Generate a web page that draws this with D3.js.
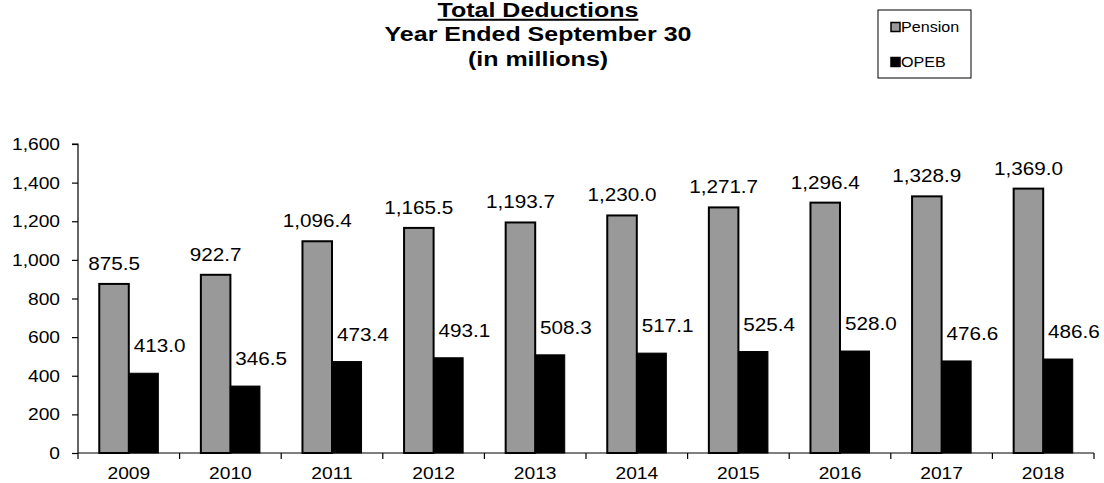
<!DOCTYPE html>
<html>
<head>
<meta charset="utf-8">
<script src="https://cdn.jsdelivr.net/npm/d3@7"></script>
<style>
  html, body { margin: 0; padding: 0; background: #fff; }
  svg { display: block; }
  text { font-family: "Liberation Sans", Arial, sans-serif; fill: #000; }
</style>
</head>
<body>
<svg id="chart" width="1104" height="483"></svg>
<script>
const years = ["2009","2010","2011","2012","2013","2014","2015","2016","2017","2018"];
const pension = [875.5, 922.7, 1096.4, 1165.5, 1193.7, 1230.0, 1271.7, 1296.4, 1328.9, 1369.0];
const opeb = [413.0, 346.5, 473.4, 493.1, 508.3, 517.1, 525.4, 528.0, 476.6, 486.6];
const seriesNames = ["Pension", "OPEB"];
const yTicks = [0, 200, 400, 600, 800, 1000, 1200, 1400, 1600];
const titleLines = ["Total Deductions", "Year Ended September 30", "(in millions)"];

const svg = d3.select("#chart");
const mLeft = 78, mRight = 1094, mTop = 144, mBottom = 453;
const colors = { Pension: "#999999", OPEB: "#000000" };

const x = d3.scaleBand().domain(years).range([mLeft, mRight]).padding(0);
const inner = d3.scaleBand().domain(seriesNames).range([0, x.bandwidth()]).paddingInner(0).paddingOuter(0.72);
const y = d3.scaleLinear().domain([0, 1600]).range([mBottom, mTop]);
const fmt = d3.format(",.1f");

// Bars
const groups = svg.append("g").selectAll("g").data(years).join("g")
  .attr("transform", d => `translate(${x(d)},0)`);

groups.append("rect")
  .attr("x", inner("Pension"))
  .attr("width", inner.bandwidth())
  .attr("y", (d, i) => y(pension[i]))
  .attr("height", (d, i) => y(0) - y(pension[i]))
  .attr("fill", colors.Pension)
  .attr("stroke", "#000").attr("stroke-width", 2);

groups.append("rect")
  .attr("x", inner("OPEB"))
  .attr("width", inner.bandwidth())
  .attr("y", (d, i) => y(opeb[i]))
  .attr("height", (d, i) => y(0) - y(opeb[i]))
  .attr("fill", colors.OPEB)
  .attr("stroke", "#000").attr("stroke-width", 1);

// Data labels
const lsx = 1.15;
groups.append("text")
  .attr("text-anchor", "middle")
  .attr("font-size", 18)
  .attr("transform", (d, i) => `translate(${inner("Pension") + inner.bandwidth() / 2},${y(pension[i]) - 14}) scale(${lsx},1)`)
  .text((d, i) => fmt(pension[i]));

groups.append("text")
  .attr("text-anchor", "middle")
  .attr("font-size", 18)
  .attr("transform", (d, i) => `translate(${inner("OPEB") + inner.bandwidth() / 2 + 16},${y(opeb[i]) - 21}) scale(${lsx},1)`)
  .text((d, i) => fmt(opeb[i]));

// Y axis
const tsx = 1.2;
const yAxis = svg.append("g").attr("transform", `translate(${mLeft},0)`)
  .call(d3.axisLeft(y).tickValues(yTicks).tickSize(6).tickFormat(d3.format(",")));
yAxis.selectAll("path, line").attr("stroke", "#000").attr("stroke-width", 1.2);
yAxis.select(".domain").attr("d", `M-6,${mTop}H0V${mBottom}`);
yAxis.selectAll(".tick text")
  .attr("font-size", 16).attr("font-family", "Liberation Sans, Arial, sans-serif").attr("fill", "#000")
  .attr("x", null).attr("dy", "0.35em")
  .attr("transform", `translate(-18,0) scale(${tsx},1)`);

// X axis
const xAxis = svg.append("g").attr("transform", `translate(0,${mBottom})`)
  .call(d3.axisBottom(x).tickSize(0).tickFormat(d => d));
xAxis.select(".domain").attr("stroke", "#000").attr("stroke-width", 1.2).attr("d", `M${mLeft},0H${mRight}`);
xAxis.selectAll(".tick text")
  .attr("font-size", 16).attr("font-family", "Liberation Sans, Arial, sans-serif").attr("fill", "#000")
  .attr("y", null).attr("dy", null)
  .attr("transform", `translate(0,26) scale(${tsx},1)`);
// category boundary ticks
const bounds = years.map(d => x(d)).concat([mRight]);
svg.append("g").selectAll("line").data(bounds).join("line")
  .attr("x1", d => d).attr("x2", d => d)
  .attr("y1", mBottom).attr("y2", mBottom + 6)
  .attr("stroke", "#000").attr("stroke-width", 1.2);

// Title
const cx = 538;
const baselines = [17, 41, 66];
svg.append("g").selectAll("text").data(titleLines).join("text")
  .attr("text-anchor", "middle")
  .attr("font-size", 20).attr("font-weight", "bold")
  .attr("text-decoration", (d, i) => i === 0 ? "underline" : null)
  .attr("transform", (d, i) => `translate(${cx},${baselines[i]}) scale(1.25,1)`)
  .text(d => d);

// Legend
const lg = svg.append("g");
lg.append("rect").attr("x", 878).attr("y", 10).attr("width", 93).attr("height", 68)
  .attr("fill", "#fff").attr("stroke", "#000").attr("stroke-width", 1);
const legY = [27, 62];
seriesNames.forEach((s, i) => {
  lg.append("rect").attr("x", 891).attr("y", legY[i] - 4.5).attr("width", 9).attr("height", 9)
    .attr("fill", colors[s]).attr("stroke", "#000").attr("stroke-width", 1.5);
  lg.append("text").attr("font-size", 14)
    .attr("transform", `translate(901,${legY[i] + 5}) scale(1.15,1)`)
    .text(s);
});
</script>
</body>
</html>
